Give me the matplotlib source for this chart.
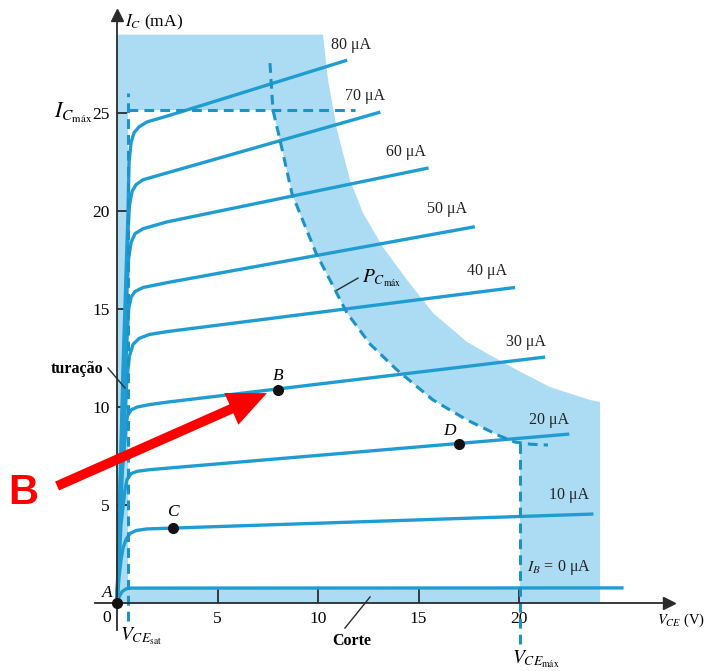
import matplotlib
matplotlib.use("Agg")
import matplotlib.pyplot as plt

plt.rcParams['font.family'] = 'serif'
plt.rcParams['font.serif'] = ['Liberation Serif', 'DejaVu Serif']
plt.rcParams['mathtext.fontset'] = 'stix'

# collector characteristic curves, one per base current (V_CE in V, I_C in mA)
ib_labels = ['80 μA', '70 μA', '60 μA', '50 μA', '40 μA', '30 μA', '20 μA', '10 μA', '$I_B$ = 0 μA']
vce_curves = [
    [0, 0.3, 0.55, 0.6, 0.7, 0.85, 1.1, 1.5, 2.5, 3.3, 11.45],
    [0, 0.3, 0.55, 0.62, 0.75, 0.95, 1.3, 2.5, 13.1],
    [0, 0.3, 0.5, 0.58, 0.7, 0.9, 1.3, 2.5, 15.5],
    [0, 0.3, 0.5, 0.58, 0.7, 0.9, 1.3, 2.5, 17.8],
    [0, 0.3, 0.5, 0.62, 0.8, 1.1, 1.6, 2.5, 19.8],
    [0, 0.25, 0.45, 0.52, 0.7, 1.0, 1.6, 2.5, 21.3],
    [0, 0.2, 0.4, 0.5, 0.7, 1.0, 1.6, 2.5, 22.5],
    [0, 0.1, 0.2, 0.3, 0.45, 0.65, 0.95, 1.5, 23.7],
    [0, 0.1, 0.25, 0.45, 0.7, 25.2],
]
ic_curves = [
    [0, 12, 20, 22.5, 23.5, 24.0, 24.3, 24.55, 24.85, 25.1, 27.7],
    [0, 11, 19, 20.3, 21.0, 21.35, 21.6, 21.95, 25.05],
    [0, 10, 16, 17.6, 18.4, 18.85, 19.1, 19.45, 22.2],
    [0, 9, 13.5, 15.0, 15.6, 15.9, 16.1, 16.35, 19.2],
    [0, 8, 11.5, 12.6, 13.2, 13.5, 13.7, 13.85, 16.1],
    [0, 6.5, 9.0, 9.55, 9.85, 10.0, 10.12, 10.25, 12.55],
    [0, 4, 5.8, 6.3, 6.6, 6.72, 6.8, 6.88, 8.62],
    [0, 1.3, 2.2, 2.8, 3.25, 3.55, 3.7, 3.78, 4.54],
    [0, 0.3, 0.58, 0.72, 0.76, 0.77],
]
label_x = [11.64, 12.34, 14.38, 16.42, 18.4, 20.35, 21.5, 22.5, 22.0]
label_y = [28.47, 25.87, 23.0, 20.1, 16.94, 13.3, 9.34, 5.5, 1.79]

# limits
ic_max = 25.15
vce_sat = 0.55
vce_max = 20.05
ic_ceo = 0.75

# maximum dissipation curve P_Cmax
pc_v = [7.61, 7.76, 8.11, 8.71, 9.9, 11.44, 12.6, 13.93, 15.72, 17.41, 19.05, 19.8, 20.6, 21.44]
pc_i = [27.55, 25.15, 23.62, 20.87, 17.86, 14.8, 13.2, 11.89, 10.36, 9.34, 8.52, 8.21, 8.1, 8.06]

# outer edge of the shaded band
band_v = [0, 0, 10.25, 10.5, 10.95, 11.59, 12.24, 13.23, 14.43, 15.72, 17.41, 18.56,
          19.9, 21.54, 23.53, 24.03, 24.03]
band_i = [0, 29.0, 29.0, 26.68, 24.13, 21.58, 19.9, 18.16, 16.48, 14.8, 13.32, 12.65,
          11.89, 11.02, 10.36, 10.26, 0]

# operating points
pt_names = ['A', 'B', 'C', 'D']
pt_v = [0, 8.0, 2.77, 17.0]
pt_i = [0, 10.85, 3.82, 8.13]

blue = '#1f9dd3'
dash_blue = '#1c93c7'
shade = '#abdcf4'
ink = '#2b2b2b'

fig = plt.figure(figsize=(7.1, 6.71), dpi=100)
ax = fig.add_axes([0, 0, 1, 1])
ax.set_xlim(-5.82, 29.5)
ax.set_ylim(-3.47, 30.77)

# shaded region outside the safe operating area
ax.fill(band_v, band_i, color=shade, lw=0, zorder=1)
safe_v = [vce_sat, vce_sat] + pc_v[1:12] + [vce_max, vce_max]
safe_i = [ic_ceo, ic_max] + pc_i[1:12] + [pc_i[11], ic_ceo]
ax.fill(safe_v, safe_i, color='white', lw=0, zorder=1.5)

for v, i in zip(vce_curves, ic_curves):
    ax.plot(v, i, color=blue, lw=2.4, solid_capstyle='butt', solid_joinstyle='round', zorder=3)
for lab, x, y in zip(ib_labels, label_x, label_y):
    ax.text(x, y, lab, fontsize=11.5, ha='center', va='center', color='#222222')

dash = dict(color=dash_blue, lw=2.2, dashes=(3.2, 2.0), zorder=3)
ax.plot(pc_v, pc_i, **dash)
ax.plot([vce_sat, 11.84], [ic_max, ic_max], **dash)
ax.plot([vce_sat, vce_sat], [-0.9, 26.0], **dash)
ax.plot([vce_max, vce_max], [-2.1, 8.25], **dash)

# axes
for side in ['top', 'right']:
    ax.spines[side].set_visible(False)
ax.spines['left'].set_position(('data', 0))
ax.spines['bottom'].set_position(('data', 0))
ax.spines['left'].set_bounds(-1.4, 29.9)
ax.spines['bottom'].set_bounds(-1.1, 27.3)
for side in ['left', 'bottom']:
    ax.spines[side].set_color(ink)
    ax.spines[side].set_linewidth(1.3)
    ax.spines[side].set_zorder(4)
ax.plot([0], [30.0], marker='^', ms=9, color=ink, clip_on=False, zorder=4)
ax.plot([27.45], [0], marker='>', ms=9, color=ink, clip_on=False, zorder=4)

ax.set_xticks([5, 10, 15, 20])
ax.set_yticks([5, 10, 15, 20, 25])
ax.tick_params(axis='x', direction='in', length=10, width=1.3, color=ink, labelsize=12.5, pad=6)
ax.tick_params(axis='y', direction='in', length=7, width=1.3, color=ink, labelsize=12.5, pad=5)
ax.text(-0.5, -0.75, '0', fontsize=12.5, ha='center', va='center')

ax.text(0.4, 29.64, '$I_C$ (mA)', fontsize=12.5, ha='left', va='center')
ax.text(26.85, -0.9, '$V_{CE}$ (V)', fontsize=10.5, ha='left', va='center')
ax.text(-1.2, 25.0, r'$I_{C_{\mathrm{máx}}}$', fontsize=16, ha='right', va='center')
ax.text(1.2, -1.7, r'$V_{CE_{\mathrm{sat}}}$', fontsize=14, ha='center', va='center')
ax.text(20.85, -2.85, r'$V_{CE_{\mathrm{máx}}}$', fontsize=14, ha='center', va='center')
ax.text(12.2, 16.55, r'$P_{C_{\mathrm{máx}}}$', fontsize=14, ha='left', va='center')
ax.plot([10.95, 11.99], [15.97, 16.58], color=ink, lw=1, zorder=4)
ax.text(-1.99, 11.95, 'turação', fontsize=11.5, fontweight='bold', ha='center', va='center')
ax.plot([-0.45, 0.4], [11.99, 10.97], color=ink, lw=1, zorder=4)
ax.text(11.7, -1.95, 'Corte', fontsize=11.5, fontweight='bold', ha='center', va='center')
ax.plot([11.34, 12.59], [-1.28, 0.31], color=ink, lw=1, zorder=4)

ax.plot(pt_v, pt_i, 'o', color='#111111', ms=7, zorder=5, clip_on=False)
pt_dx = [-0.5, 0.0, 0.0, -0.45]
pt_dy = [0.5, 0.75, 0.8, 0.65]
for n, v, i, dx, dy in zip(pt_names, pt_v, pt_i, pt_dx, pt_dy):
    ax.text(v + dx, i + dy, n, fontsize=12.5, style='italic', ha='center', va='center')

# red pointer to B
ax.annotate('', xy=(7.46, 10.71), xytext=(-2.98, 5.97),
            arrowprops=dict(width=7, headwidth=25, headlength=28, shrink=0,
                            color='#ff0000', lw=0), zorder=6)
ax.text(-4.68, 5.61, 'B', fontsize=30, fontweight='bold', color='#ff0000',
        family='Liberation Sans', ha='center', va='center', zorder=6)

fig.savefig('out.png', dpi=100)
